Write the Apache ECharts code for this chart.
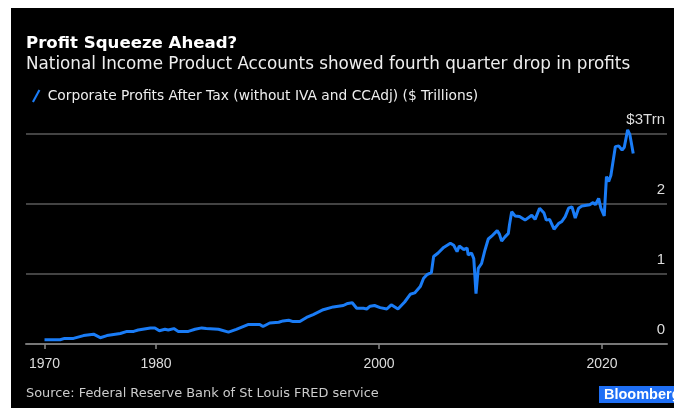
<!DOCTYPE html>
<html>
<head>
<meta charset="utf-8">
<script src="https://cdn.jsdelivr.net/npm/echarts@6/dist/echarts.min.js"></script>
<style>
  html, body { margin: 0; padding: 0; background: #fff; }
  #panel { position: absolute; left: 11px; top: 8px; width: 663px; height: 400px; background: #000; }
  #chart { position: absolute; left: 0; top: 0; width: 674px; height: 410px; }
</style>
</head>
<body>
<div id="panel"></div>
<div id="chart"></div>
<script>
// quarter positions as decimal years
var years = [
  1970.0, 1971.4, 1971.8, 1972.6, 1973.5, 1974.4, 1975.0, 1975.6, 1976.8, 1977.4,
  1978.0, 1978.4, 1979.5, 1979.9, 1980.3, 1980.8, 1981.1, 1981.6, 1982.0, 1982.9,
  1983.5, 1984.1, 1984.5, 1985.6, 1986.5, 1987.2, 1988.3, 1989.3, 1989.6, 1990.2,
  1991.0, 1991.4, 1991.9, 1992.3, 1992.9, 1993.5, 1994.1, 1995.0, 1995.9, 1996.8,
  1997.2, 1997.6, 1998.0, 1998.6, 1998.9, 1999.2, 1999.6, 2000.1, 2000.7, 2001.1,
  2001.7, 2002.3, 2002.8, 2003.2, 2003.7, 2004.0, 2004.3, 2004.7, 2004.9, 2005.3,
  2005.8, 2006.4, 2006.7, 2007.0, 2007.2, 2007.6, 2007.9, 2008.0, 2008.3, 2008.5,
  2008.7, 2008.9, 2009.2, 2009.5, 2009.8, 2010.1, 2010.6, 2010.8, 2011.0, 2011.3,
  2011.6, 2011.7, 2011.9, 2012.2, 2012.6, 2013.1, 2013.7, 2014.0, 2014.4, 2014.8,
  2015.0, 2015.3, 2015.7, 2016.1, 2016.4, 2016.7, 2017.0, 2017.3, 2017.4, 2017.6,
  2017.9, 2018.2, 2018.9, 2019.2, 2019.4, 2019.7, 2019.9, 2020.2, 2020.4, 2020.6,
  2020.8, 2021.2, 2021.5, 2021.8, 2022.0, 2022.3, 2022.5, 2022.8
]
// $ trillions
var profits = [
  0.06, 0.06, 0.08, 0.08, 0.12, 0.14, 0.09, 0.12, 0.15, 0.18,
  0.18, 0.20, 0.23, 0.23, 0.19, 0.21, 0.20, 0.22, 0.18, 0.18,
  0.21, 0.23, 0.22, 0.21, 0.17, 0.21, 0.28, 0.28, 0.25, 0.30,
  0.31, 0.33, 0.34, 0.32, 0.32, 0.38, 0.42, 0.49, 0.53, 0.55,
  0.58, 0.59, 0.51, 0.51, 0.50, 0.54, 0.55, 0.52, 0.50, 0.56,
  0.50, 0.60, 0.71, 0.73, 0.82, 0.94, 0.99, 1.02, 1.25, 1.30,
  1.38, 1.44, 1.41, 1.32, 1.40, 1.35, 1.37, 1.27, 1.30, 1.22,
  0.72, 1.08, 1.15, 1.34, 1.50, 1.54, 1.62, 1.57, 1.47, 1.53,
  1.58, 1.70, 1.89, 1.83, 1.82, 1.77, 1.84, 1.78, 1.94, 1.87,
  1.77, 1.78, 1.64, 1.72, 1.75, 1.82, 1.94, 1.96, 1.91, 1.80,
  1.94, 1.97, 1.99, 2.02, 1.99, 2.08, 1.94, 1.83, 2.39, 2.32,
  2.41, 2.82, 2.83, 2.77, 2.81, 3.06, 2.99, 2.72
]
var xLabels = [1970, 1980, 2000, 2020]

var font = 'Liberation Sans, Arial, sans-serif'
var wide = 'DejaVu Sans, sans-serif'
var chart = echarts.init(document.getElementById('chart'))

var points = years.map(function(y, i) {
  return [y, profits[i]]
})

chart.setOption({
  animation: false,
  textStyle: { fontFamily: font },
  title: [{
    text: 'Profit Squeeze Ahead?',
    left: 21,
    top: 30,
    textStyle: { color: '#fff', fontSize: 16.6, fontWeight: 'bold', fontFamily: wide }
  }, {
    text: 'National Income Product Accounts showed fourth quarter drop in profits',
    left: 21,
    top: 51,
    textStyle: { color: '#eee', fontSize: 16.8, fontWeight: 'normal', fontFamily: wide }
  }],
  legend: {
    left: 27,
    top: 84,
    itemWidth: 9,
    itemHeight: 13,
    itemGap: 10,
    icon: 'path://M7,0 L9,1 L2,14 L0,13 Z',
    textStyle: { color: '#eee', fontSize: 13.8, fontFamily: wide, padding: [0, 0, 0, 2] },
    data: ['Corporate Profits After Tax (without IVA and CCAdj) ($ Trillions)']
  },
  grid: {
    left: 26,
    right: 7,
    top: 134,
    bottom: 66
  },
  xAxis: {
    type: 'value',
    min: 1968.34,
    max: 2025.83,
    axisLine: { lineStyle: { color: '#777', width: 2 } },
    axisTick: {
      customValues: xLabels,
      length: 5,
      lineStyle: { color: '#888', width: 1.5 }
    },
    axisLabel: {
      customValues: xLabels,
      color: '#ddd',
      fontSize: 14,
      margin: 13,
      formatter: function(v) { return String(v) }
    },
    splitLine: { show: false }
  },
  yAxis: {
    type: 'value',
    position: 'right',
    min: 0,
    max: 3,
    interval: 1,
    axisLine: { show: false },
    axisTick: { show: false },
    axisLabel: {
      inside: true,
      margin: 2,
      color: '#ddd',
      fontSize: 15,
      verticalAlign: 'bottom',
      padding: [0, 0, 7, 0],
      formatter: function(v) { return v === 3 ? '$3Trn' : String(v) }
    },
    splitLine: { lineStyle: { color: '#5a5a5a', width: 1.5 } }
  },
  graphic: [{
    type: 'text',
    left: 26,
    top: 387,
    style: {
      text: 'Source: Federal Reserve Bank of St Louis FRED service',
      fill: '#ccc',
      font: '12.9px ' + wide
    }
  }, {
    type: 'rect',
    left: 599,
    top: 386,
    shape: { width: 80, height: 17 },
    style: { fill: '#1f6ff5' }
  }, {
    type: 'text',
    left: 604,
    top: 387,
    style: {
      text: 'Bloomberg',
      fill: '#fff',
      font: 'bold 14.5px ' + font
    }
  }],
  series: [{
    name: 'Corporate Profits After Tax (without IVA and CCAdj) ($ Trillions)',
    type: 'line',
    showSymbol: false,
    clip: false,
    color: '#1a7cf6',
    lineStyle: { color: '#1a7cf6', width: 3 },
    data: points
  }]
})
</script>
</body>
</html>
